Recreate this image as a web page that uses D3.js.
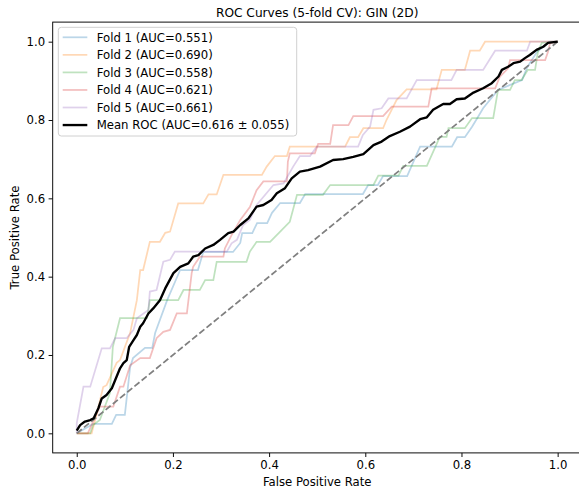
<!DOCTYPE html>
<meta charset="utf-8">
<head>
    <script src="https://d3js.org/d3.v7.min.js"></script>
    <style>
        body {
            margin: 0;
            background: #fff;
        }
        text {
            font-family: "DejaVu Sans", sans-serif;
        }
    </style>
</head>
<body>
<div id="rocViz"></div>
<script>
    // ROC points per fold as [fpr, tpr]
    var fold1 = [[0,0],[0.034,0.024],[0.073,0.024],[0.082,0.047],[0.100,0.047],[0.111,0.169],[0.117,0.192],
        [0.142,0.218],[0.157,0.218],[0.163,0.256],[0.188,0.340],[0.215,0.417],[0.252,0.417],[0.263,0.463],
        [0.325,0.463],[0.340,0.486],[0.344,0.511],[0.365,0.511],[0.375,0.537],[0.396,0.537],[0.406,0.563],
        [0.423,0.588],[0.464,0.588],[0.475,0.611],[0.595,0.611],[0.606,0.634],[0.626,0.634],[0.637,0.657],
        [0.687,0.657],[0.714,0.732],[0.780,0.732],[0.791,0.756],[0.807,0.756],[0.822,0.783],[0.834,0.807],
        [0.845,0.830],[0.876,0.877],[0.926,0.902],[0.936,0.933],[0.957,0.974],[0.984,1],[1,1]];
    var fold2 = [[0,0],[0.031,0],[0.042,0.052],[0.055,0.118],[0.062,0.123],[0.083,0.180],[0.090,0.187],
        [0.100,0.220],[0.111,0.256],[0.125,0.340],[0.132,0.417],[0.138,0.417],[0.152,0.489],[0.173,0.489],
        [0.184,0.512],[0.194,0.515],[0.211,0.587],[0.263,0.587],[0.274,0.610],[0.291,0.610],[0.305,0.660],
        [0.385,0.660],[0.395,0.681],[0.412,0.708],[0.437,0.708],[0.443,0.732],[0.558,0.732],[0.568,0.756],
        [0.585,0.756],[0.596,0.779],[0.637,0.779],[0.644,0.800],[0.665,0.851],[0.686,0.878],[0.748,0.878],
        [0.759,0.928],[0.807,0.928],[0.818,0.977],[0.838,0.977],[0.849,1],[1,1]];
    var fold3 = [[0,0],[0.028,0],[0.034,0.021],[0.048,0.034],[0.069,0.103],[0.075,0.220],[0.090,0.294],
        [0.146,0.294],[0.152,0.340],[0.211,0.340],[0.222,0.366],[0.256,0.366],[0.267,0.391],[0.284,0.391],
        [0.291,0.438],[0.353,0.438],[0.360,0.464],[0.374,0.489],[0.402,0.489],[0.423,0.515],[0.443,0.540],
        [0.458,0.609],[0.512,0.609],[0.527,0.634],[0.617,0.634],[0.627,0.658],[0.669,0.658],[0.679,0.683],
        [0.728,0.683],[0.755,0.757],[0.769,0.757],[0.773,0.779],[0.807,0.779],[0.822,0.805],[0.866,0.805],
        [0.876,0.877],[0.901,0.877],[0.911,0.902],[0.925,0.902],[0.938,0.928],[0.953,0.928],[0.959,0.974],
        [0.967,0.997],[1,1]];
    var fold4 = [[0,0],[0.023,0],[0.048,0.068],[0.076,0.068],[0.090,0.119],[0.097,0.119],[0.111,0.174],
        [0.132,0.192],[0.152,0.192],[0.166,0.243],[0.180,0.259],[0.194,0.264],[0.208,0.306],[0.229,0.306],
        [0.239,0.409],[0.242,0.425],[0.256,0.451],[0.305,0.451],[0.308,0.472],[0.322,0.506],[0.340,0.545],
        [0.360,0.578],[0.374,0.621],[0.388,0.643],[0.437,0.643],[0.439,0.694],[0.443,0.715],[0.495,0.715],
        [0.502,0.739],[0.527,0.739],[0.533,0.787],[0.565,0.787],[0.575,0.810],[0.637,0.810],[0.655,0.834],
        [0.731,0.834],[0.738,0.881],[0.870,0.881],[0.880,0.911],[0.897,0.932],[0.901,0.953],[0.974,0.953],
        [0.980,0.974],[0.984,0.996],[1,1]];
    var fold5 = [[0,0],[0,0.026],[0.014,0.119],[0.028,0.119],[0.052,0.217],[0.069,0.217],[0.080,0.243],
        [0.104,0.243],[0.118,0.264],[0.125,0.294],[0.149,0.315],[0.152,0.362],[0.166,0.366],[0.180,0.438],
        [0.194,0.443],[0.204,0.464],[0.312,0.464],[0.322,0.485],[0.333,0.494],[0.346,0.532],[0.360,0.545],
        [0.374,0.583],[0.409,0.634],[0.430,0.638],[0.450,0.681],[0.464,0.708],[0.485,0.708],[0.499,0.732],
        [0.585,0.732],[0.595,0.762],[0.610,0.783],[0.617,0.826],[0.634,0.830],[0.648,0.855],[0.686,0.855],
        [0.707,0.902],[0.779,0.902],[0.790,0.928],[0.845,0.928],[0.870,0.977],[0.936,0.977],[0.943,1],[1,1]];

    // mean curve, also
    var meanRoc = [[0,0.007],[0.007,0.021],[0.017,0.030],[0.028,0.034],[0.035,0.038],[0.045,0.064],
        [0.052,0.089],[0.062,0.098],[0.073,0.115],[0.080,0.136],[0.090,0.166],[0.097,0.179],[0.104,0.187],
        [0.109,0.221],[0.118,0.238],[0.125,0.251],[0.132,0.272],[0.138,0.281],[0.149,0.306],[0.159,0.319],
        [0.173,0.340],[0.184,0.370],[0.201,0.409],[0.215,0.425],[0.232,0.434],[0.242,0.451],[0.253,0.455],
        [0.267,0.472],[0.284,0.481],[0.298,0.494],[0.315,0.511],[0.326,0.515],[0.340,0.532],[0.357,0.549],
        [0.374,0.579],[0.388,0.583],[0.405,0.596],[0.416,0.613],[0.433,0.626],[0.447,0.651],[0.464,0.668],
        [0.481,0.672],[0.506,0.681],[0.533,0.698],[0.554,0.700],[0.575,0.706],[0.596,0.713],[0.617,0.736],
        [0.634,0.745],[0.651,0.759],[0.672,0.770],[0.693,0.783],[0.714,0.802],[0.728,0.807],[0.741,0.826],
        [0.762,0.841],[0.776,0.841],[0.790,0.853],[0.807,0.855],[0.825,0.870],[0.845,0.881],[0.863,0.894],
        [0.877,0.911],[0.884,0.928],[0.897,0.936],[0.908,0.945],[0.922,0.949],[0.932,0.958],[0.942,0.966],
        [0.956,0.979],[0.970,0.987],[0.980,0.997],[1,1]];

    var folds = [fold1, fold2, fold3, fold4, fold5];
    var foldNames = ["Fold 1 (AUC=0.551)", "Fold 2 (AUC=0.690)", "Fold 3 (AUC=0.558)",
        "Fold 4 (AUC=0.621)", "Fold 5 (AUC=0.661)"];
    var foldColors = ["#1f77b4", "#ff7f0e", "#2ca02c", "#d62728", "#9467bd"];
    var meanName = "Mean ROC (AUC=0.616 \u00b1 0.055)";
    var chanceLine = [[0, 0], [1, 1]];
    var tickValues = [0, 0.2, 0.4, 0.6, 0.8, 1.0];

    var width = 579, height = 488;
    var margin = {top: 22.1, right: -2.7, bottom: 35.1, left: 52.7};

    var svg = d3.select("#rocViz").append("svg")
        .attr("width", width)
        .attr("height", height);

    var x = d3.scaleLinear().domain([-0.05, 1.05]).range([margin.left, width - margin.right]);
    var y = d3.scaleLinear().domain([-0.05, 1.05]).range([height - margin.bottom, margin.top]);

    svg.append("clipPath").attr("id", "plotClip")
        .append("rect")
        .attr("x", x(-0.05)).attr("y", y(1.05))
        .attr("width", x(1.05) - x(-0.05)).attr("height", y(-0.05) - y(1.05));

    var line = d3.line()
        .x(function(d) { return x(d[0]); })
        .y(function(d) { return y(d[1]); });

    var plot = svg.append("g").attr("clip-path", "url(#plotClip)");

    plot.selectAll(".fold")
        .data(folds)
        .enter().append("path")
        .attr("class", "fold")
        .attr("d", line)
        .attr("fill", "none")
        .attr("stroke", function(d, i) { return foldColors[i]; })
        .attr("stroke-opacity", 0.3)
        .attr("stroke-width", 1.75);

    plot.append("path")
        .attr("d", line(chanceLine))
        .attr("fill", "none")
        .attr("stroke", "#808080")
        .attr("stroke-width", 1.75)
        .attr("stroke-dasharray", "6.5,2.8");

    plot.append("path")
        .attr("d", line(meanRoc))
        .attr("fill", "none")
        .attr("stroke", "#000")
        .attr("stroke-width", 2.35)
        .attr("stroke-linejoin", "round");

    // axes
    var xAxis = svg.append("g")
        .attr("transform", "translate(0," + y(-0.05) + ")")
        .call(d3.axisBottom(x).tickValues(tickValues).tickFormat(d3.format(".1f")).tickSize(4.1).tickPadding(3.5));
    var yAxis = svg.append("g")
        .attr("transform", "translate(" + x(-0.05) + ",0)")
        .call(d3.axisLeft(y).tickValues(tickValues).tickFormat(d3.format(".1f")).tickSize(4.1).tickPadding(3.5));

    [xAxis, yAxis].forEach(function(g) {
        g.select(".domain").remove();
        g.selectAll(".tick line").attr("stroke", "#000").attr("stroke-width", 0.95);
        g.selectAll(".tick text")
            .attr("fill", "#000")
            .style("font-size", "11.7px")
            .style("font-family", "'DejaVu Sans', sans-serif");
    });

    // spines
    svg.append("rect")
        .attr("x", x(-0.05)).attr("y", y(1.05))
        .attr("width", x(1.05) - x(-0.05)).attr("height", y(-0.05) - y(1.05))
        .attr("fill", "none")
        .attr("stroke", "#000")
        .attr("stroke-width", 0.95);

    svg.append("text")
        .attr("x", (x(-0.05) + x(1.05)) / 2)
        .attr("y", 16.5)
        .attr("text-anchor", "middle")
        .style("font-size", "12.2px")
        .text("ROC Curves (5-fold CV): GIN (2D)");

    svg.append("text")
        .attr("x", (x(-0.05) + x(1.05)) / 2)
        .attr("y", 486)
        .attr("text-anchor", "middle")
        .style("font-size", "11.7px")
        .text("False Positive Rate");

    svg.append("text")
        .attr("transform", "translate(19," + (y(-0.05) + y(1.05)) / 2 + ") rotate(-90)")
        .attr("text-anchor", "middle")
        .style("font-size", "11.7px")
        .text("True Positive Rate");

    // legend
    var legendItems = foldNames.map(function(name, i) {
        return {name: name, color: foldColors[i], opacity: 0.3, width: 1.75};
    });
    legendItems.push({name: meanName, color: "#000", opacity: 1, width: 2.35});

    var legend = svg.append("g");
    legend.append("rect")
        .attr("x", 58.3).attr("y", 27.3)
        .attr("width", 238.4).attr("height", 108.7)
        .attr("rx", 3)
        .attr("fill", "#fff")
        .attr("fill-opacity", 0.8)
        .attr("stroke", "#d0d0d0")
        .attr("stroke-width", 1);

    var rows = legend.selectAll(".legendRow")
        .data(legendItems)
        .enter().append("g")
        .attr("class", "legendRow")
        .attr("transform", function(d, i) { return "translate(0," + (37.3 + i * 17.55) + ")"; });

    rows.append("line")
        .attr("x1", 62.7).attr("x2", 87.3)
        .attr("stroke", function(d) { return d.color; })
        .attr("stroke-opacity", function(d) { return d.opacity; })
        .attr("stroke-width", function(d) { return d.width; });

    rows.append("text")
        .attr("x", 96.7)
        .attr("dy", "0.36em")
        .style("font-size", "11.7px")
        .text(function(d) { return d.name; });
</script>
</body>
